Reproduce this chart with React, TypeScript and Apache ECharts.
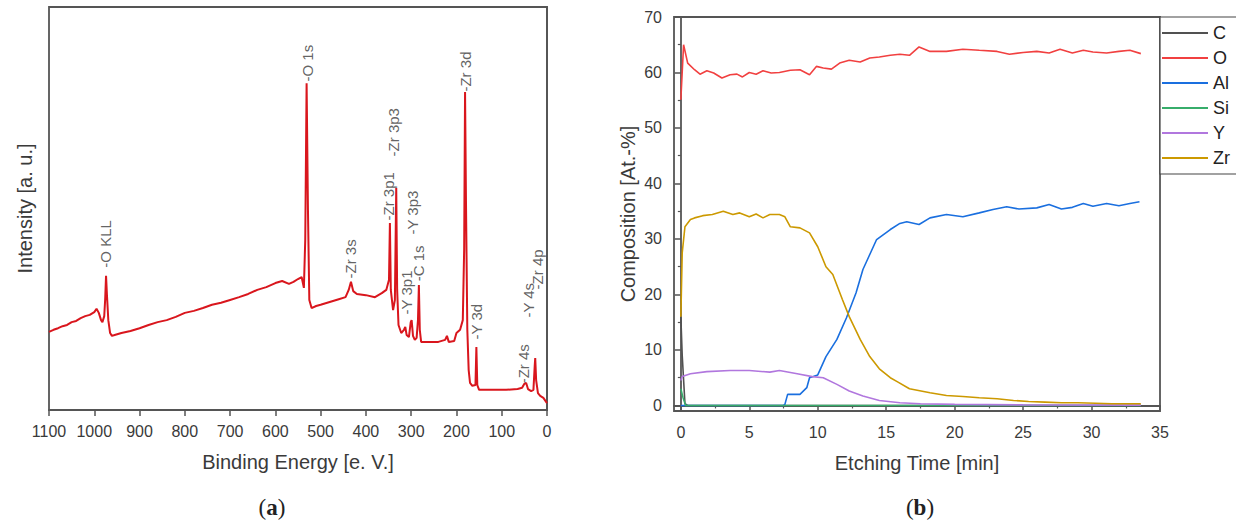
import React, { useEffect, useRef } from "react";
import * as echarts from "echarts";

// ---------- Panel (a): XPS survey spectrum ----------
const bindingEnergy = [
  1100, 1090, 1080, 1070, 1060, 1050, 1040, 1030, 1020, 1010, 1000, 995, 990, 985, 982, 978, 976, 974, 972, 969,
  965, 961, 955, 940, 920, 900, 880, 860, 840, 820, 800, 780, 760, 740, 720, 700, 680, 660, 640, 620,
  600, 585, 570, 560, 550, 542, 537, 534, 531, 528, 525, 520, 510, 500, 480, 460, 445, 438, 433, 428,
  420, 400, 380, 365, 355, 349, 347, 345, 340, 336, 333, 331, 328, 322, 316, 313, 310, 305, 301, 299,
  296, 292, 288, 285, 283, 281, 278, 260, 240, 225, 221, 217, 205, 200, 192, 186, 183, 181, 179, 176,
  173, 170, 165, 158, 156, 154, 150, 120, 90, 65, 55, 50, 46, 42, 35, 30, 27, 26, 24, 20,
  15, 8, 0,
];
const intensity = [
  19.4, 19.9, 20.3, 20.8, 21.1, 21.8, 22.1, 22.8, 23.3, 23.6, 24.3, 25.1, 24.1, 22.3, 21.8, 23.3, 27.3, 33.3, 28.5, 22.3,
  19.1, 18.4, 18.6, 19.1, 19.6, 20.3, 21.1, 21.8, 22.3, 23.1, 24.1, 24.6, 25.3, 26.1, 26.6, 27.3, 28.0, 28.8, 29.8, 30.5,
  31.5, 32.0, 31.3, 31.8, 32.5, 33.0, 30.3, 42.2, 81.1, 49.6, 27.3, 25.3, 25.8, 26.1, 26.8, 27.5, 28.0, 29.8, 31.8, 29.5,
  28.8, 28.5, 28.0, 29.0, 29.8, 32.3, 46.4, 29.8, 24.8, 27.3, 55.1, 29.8, 21.1, 19.1, 19.9, 20.6, 18.6, 18.1, 21.8, 22.3,
  18.4, 17.4, 17.9, 22.3, 31.0, 19.9, 16.9, 16.9, 16.9, 17.4, 18.4, 16.9, 17.1, 19.1, 19.9, 22.3, 39.7, 78.9, 52.1, 19.9,
  9.9, 6.7, 6.0, 6.2, 15.6, 6.2, 5.0, 5.0, 5.0, 5.2, 5.5, 6.5, 6.7, 5.2, 4.7, 5.0, 11.2, 12.9, 7.4, 4.2,
  3.5, 3.0, 1.7,
];
const peakNames = [
  "-O KLL", "-O 1s", "-Zr 3s", "-Zr 3p1", "-Zr 3p3", "-Y 3p1", "-Y 3p3", "-C 1s", "-Zr 3d", "-Y 3d", "-Zr 4s", "-Y 4s", "-Zr 4p",
];
const peakEnergy = [976, 530, 435, 349, 338, 311, 298, 283, 181, 155, 51, 40, 22];
const peakLabelLevel = [35.2, 81.4, 32.5, 46.9, 62.8, 23.6, 43.4, 31.8, 78.9, 17.4, 6.5, 22.8, 29.8];
const energyTicks = [1100, 1000, 900, 800, 700, 600, 500, 400, 300, 200, 100, 0];

// ---------- Panel (b): depth profile ----------
const elementNames = ["C", "O", "Al", "Si", "Y", "Zr"];
const elementColors = ["#515151", "#F14040", "#1A6FDF", "#37AD6B", "#B177DE", "#CC9900"];
const carbon: number[][] = [[0, 16], [0.1, 9], [0.3, 0.3], [0.5, 0], [10, 0], [20, 0], [33.6, 0]];
const oxygen: number[][] = [
  [0, 55.1], [0.2, 65], [0.5, 61.7], [1.0, 60.5], [1.4, 59.7], [1.9, 60.3], [2.4, 59.9], [3.0, 59.0], [3.6, 59.6],
  [4.1, 59.7], [4.5, 59.2], [5.0, 60.0], [5.5, 59.7], [6.0, 60.3], [6.6, 59.9], [7.2, 60.0], [8.0, 60.4], [8.7, 60.5],
  [9.4, 59.6], [9.9, 61.1], [10.4, 60.8], [11.0, 60.6], [11.6, 61.7], [12.3, 62.2], [13.1, 61.9], [13.8, 62.6],
  [14.5, 62.8], [15.3, 63.1], [16.0, 63.3], [16.7, 63.1], [17.4, 64.6], [18.2, 63.8], [19.4, 63.8], [20.6, 64.2],
  [21.8, 64.0], [23.1, 63.8], [24.0, 63.3], [25.0, 63.6], [26.0, 63.8], [26.9, 63.5], [27.7, 64.2], [28.6, 63.5],
  [29.4, 64.0], [30.1, 63.7], [31.1, 63.5], [32.0, 63.8], [32.8, 64.0], [33.6, 63.4],
];
const aluminium: number[][] = [
  [0, 0], [7.5, 0], [7.6, 0.2], [7.8, 2.0], [8.7, 2.0], [9.2, 3.2], [9.4, 5.0], [10.0, 5.5], [10.6, 8.8], [11.4, 11.9],
  [12.1, 15.8], [12.8, 20.3], [13.3, 24.5], [13.8, 27.2], [14.3, 29.9], [15.3, 31.7], [16.0, 32.8], [16.5, 33.1],
  [17.4, 32.6], [18.2, 33.8], [19.4, 34.4], [20.6, 34.0], [21.8, 34.7], [22.8, 35.3], [23.8, 35.8], [24.7, 35.4],
  [26.0, 35.6], [26.9, 36.2], [27.8, 35.4], [28.6, 35.7], [29.4, 36.4], [30.1, 35.9], [31.1, 36.4], [32.0, 36.0],
  [32.8, 36.4], [33.5, 36.7],
];
const silicon: number[][] = [[0, 3], [0.15, 1.5], [0.35, 0], [10, 0], [20, 0], [33.6, 0]];
const yttrium: number[][] = [
  [0, 4.5], [0.1, 5.2], [0.7, 5.7], [1.9, 6.1], [3.6, 6.3], [5.0, 6.3], [6.5, 6.0], [7.2, 6.3], [8.5, 5.7], [9.6, 5.2],
  [10.4, 5.0], [11.4, 3.8], [12.3, 2.6], [13.3, 1.7], [14.5, 0.9], [16.0, 0.5], [17.5, 0.3], [20, 0.2], [25, 0.1],
  [33.6, 0.05],
];
const zirconium: number[][] = [
  [0, 16], [0.1, 27.5], [0.3, 32.2], [0.7, 33.5], [1.0, 33.8], [1.6, 34.2], [2.3, 34.4], [3.1, 35.0], [3.8, 34.4],
  [4.3, 34.7], [5.0, 34.0], [5.5, 34.5], [6.0, 33.8], [6.5, 34.4], [7.2, 34.4], [7.6, 34.0], [8.0, 32.2], [8.7, 32.0],
  [9.4, 31.1], [10.0, 28.6], [10.6, 25.0], [11.1, 23.6], [11.8, 19.1], [12.3, 16.0], [13.1, 11.9], [13.8, 8.8],
  [14.5, 6.6], [15.3, 5.0], [15.8, 4.3], [16.7, 3.0], [18.2, 2.3], [19.4, 1.8], [20.6, 1.6], [21.8, 1.4], [23.1, 1.2],
  [24.3, 0.9], [25.4, 0.7], [26.6, 0.6], [27.8, 0.5], [29.0, 0.5], [30.3, 0.4], [31.5, 0.3], [33.6, 0.3],
];
const elementData = [carbon, oxygen, aluminium, silicon, yttrium, zirconium];
const timeMajorTicks = [0, 5, 10, 15, 20, 25, 30, 35];
const timeMinorTicks = [2.5, 7.5, 12.5, 17.5, 22.5, 27.5, 32.5];
const compMajorTicks = [0, 10, 20, 30, 40, 50, 60, 70];
const compMinorTicks = [5, 15, 25, 35, 45, 55, 65];

const FONT = "'Liberation Sans', Arial, sans-serif";
const AXIS_COLOR = "#555";
const LABEL_COLOR = "#3a3a3a";
const TITLE_SIZE = 20;
const TICK_SIZE = 16;

export default function App() {
  const ref = useRef<HTMLDivElement>(null);
  useEffect(() => {
    if (!ref.current) return;
    const chart = echarts.init(ref.current, undefined, { renderer: "svg" });
    const axisLine = { show: true, lineStyle: { color: AXIS_COLOR, width: 1.8 } };
    const plain = (v: number) => String(v);
    const nameStyle = { fontSize: TITLE_SIZE, color: LABEL_COLOR, fontFamily: FONT };
    const option: any = {
      animation: false,
      backgroundColor: "#fff",
      textStyle: { fontFamily: FONT },
      grid: [
        { left: 49, top: 7, width: 498, height: 403, show: true, borderColor: AXIS_COLOR, borderWidth: 1.8, backgroundColor: "transparent" },
        { left: 674, top: 17, width: 486, height: 394, show: true, borderColor: AXIS_COLOR, borderWidth: 1.8, backgroundColor: "transparent" },
      ],
      xAxis: [
        {
          gridIndex: 0, type: "value", inverse: true, min: 0, max: 1100, interval: 100,
          name: "Binding Energy [e. V.]", nameLocation: "middle", nameGap: 42, nameTextStyle: nameStyle,
          axisLine, splitLine: { show: false },
          axisTick: { show: true, inside: false, length: 6, lineStyle: { color: AXIS_COLOR, width: 1.5 } },
          axisLabel: { fontSize: TICK_SIZE, color: LABEL_COLOR, margin: 13, showMinLabel: true, showMaxLabel: true, customValues: energyTicks, formatter: plain },
        },
        {
          gridIndex: 1, type: "value", min: -0.5, max: 35,
          name: "Etching Time [min]", nameLocation: "middle", nameGap: 42, nameTextStyle: nameStyle,
          axisLine, splitLine: { show: false },
          axisTick: { show: true, inside: false, length: 6, customValues: timeMajorTicks, lineStyle: { color: AXIS_COLOR, width: 1.5 } },
          axisLabel: { fontSize: TICK_SIZE, color: LABEL_COLOR, margin: 13, customValues: timeMajorTicks, formatter: plain },
        },
        {
          gridIndex: 1, type: "value", min: -0.5, max: 35, position: "bottom",
          axisLine: { show: false }, splitLine: { show: false }, axisLabel: { show: false },
          axisTick: { show: true, inside: false, length: 3, customValues: timeMinorTicks, lineStyle: { color: AXIS_COLOR, width: 1.2 } },
        },
      ],
      yAxis: [
        {
          gridIndex: 0, type: "value", min: 0, max: 100,
          name: "Intensity [a. u.]", nameLocation: "middle", nameGap: 14, nameTextStyle: nameStyle,
          axisLine, axisTick: { show: false }, axisLabel: { show: false }, splitLine: { show: false },
        },
        {
          gridIndex: 1, type: "value", min: -1, max: 70,
          name: "Composition [At.-%]", nameLocation: "middle", nameGap: 36, nameTextStyle: nameStyle,
          axisLine, splitLine: { show: false },
          axisTick: { show: true, inside: false, length: 6, customValues: compMajorTicks, lineStyle: { color: AXIS_COLOR, width: 1.5 } },
          axisLabel: { fontSize: TICK_SIZE, color: LABEL_COLOR, margin: 12, customValues: compMajorTicks, formatter: plain },
        },
        {
          gridIndex: 1, type: "value", min: -1, max: 70, position: "left",
          axisLine: { show: false }, splitLine: { show: false }, axisLabel: { show: false },
          axisTick: { show: true, inside: false, length: 3, customValues: compMinorTicks, lineStyle: { color: AXIS_COLOR, width: 1.2 } },
        },
      ],
      legend: {
        orient: "vertical", left: 1160, top: 17, icon: "rect", itemWidth: 46, itemHeight: 2, itemGap: 7,
        padding: [7, 40, 7, 2], borderColor: "#444", borderWidth: 1.2, backgroundColor: "#fff",
        textStyle: { fontSize: 18, color: "#222", fontFamily: FONT, lineHeight: 18 },
        data: elementNames,
      },
      graphic: [
        {
          type: "text", x: 272, y: 507,
          style: {
            text: "{p|(}{b|a}{p|)}", align: "center", verticalAlign: "middle",
            rich: {
              p: { fontFamily: "'Liberation Serif', serif", fontSize: 23, fill: "#222" },
              b: { fontFamily: "'Liberation Serif', serif", fontSize: 23, fontWeight: "bold", fill: "#222" },
            },
          },
        },
        {
          type: "text", x: 920, y: 507,
          style: {
            text: "{p|(}{b|b}{p|)}", align: "center", verticalAlign: "middle",
            rich: {
              p: { fontFamily: "'Liberation Serif', serif", fontSize: 23, fill: "#222" },
              b: { fontFamily: "'Liberation Serif', serif", fontSize: 23, fontWeight: "bold", fill: "#222" },
            },
          },
        },
      ],
      series: [
        {
          name: "spectrum", type: "line", xAxisIndex: 0, yAxisIndex: 0, showSymbol: false, symbol: "none",
          lineStyle: { color: "#d9161d", width: 2 },
          data: bindingEnergy.map((e, i) => [e, intensity[i]]),
          z: 3,
        },
        {
          name: "peaks", type: "scatter", xAxisIndex: 0, yAxisIndex: 0, symbolSize: 1,
          itemStyle: { color: "rgba(0,0,0,0)" },
          label: {
            show: true, formatter: "{b}", rotate: 90, position: "top", distance: 0,
            align: "left", verticalAlign: "middle", fontSize: 15, color: "#3a3a3a", fontFamily: FONT,
          },
          data: peakNames.map((n, i) => ({ name: n, value: [peakEnergy[i], peakLabelLevel[i]] })),
          z: 4,
        },
        ...elementNames.map((n, i) => ({
          name: n, type: "line", xAxisIndex: 1, yAxisIndex: 1, showSymbol: false, symbol: "none",
          color: elementColors[i],
          lineStyle: { color: elementColors[i], width: 1.6 },
          data: elementData[i],
        })),
      ],
    };
    chart.setOption(option);
    return () => chart.dispose();
  }, []);
  return <div ref={ref} style={{ position: "fixed", left: 0, top: 0, width: 1236, height: 525, background: "#fff" }} />;
}
